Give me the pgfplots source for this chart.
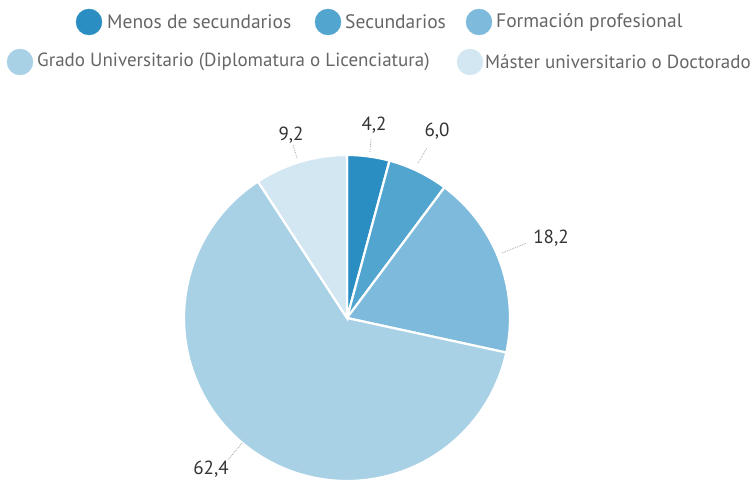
\documentclass[border=0pt]{standalone}
\usepackage{pgfplots}
\pgfplotsset{compat=1.18}
\usepackage{fontspec}
\setmainfont{PT Sans}
\definecolor{cA}{HTML}{2A8EC3}
\definecolor{cB}{HTML}{52A5CF}
\definecolor{cC}{HTML}{7EBADB}
\definecolor{cD}{HTML}{A9D1E5}
\definecolor{cE}{HTML}{D3E7F3}
\definecolor{legtxt}{HTML}{666666}
\definecolor{lbltxt}{HTML}{333333}
% data (percent)
\def\vA{4.2}\def\vB{6.0}\def\vC{18.2}\def\vD{62.4}\def\vE{9.2}
\pgfmathsetmacro\aO{90}
\pgfmathsetmacro\aA{\aO-3.6*\vA}
\pgfmathsetmacro\aB{\aA-3.6*\vB}
\pgfmathsetmacro\aC{\aB-3.6*\vC}
\pgfmathsetmacro\aD{\aC-3.6*\vD}
\pgfmathsetmacro\aE{\aD-3.6*\vE}
\def\cx{347}\def\cy{318}\def\R{163}
\begin{document}
\begin{tikzpicture}
\begin{axis}[
  width=754pt, height=481pt, scale only axis,
  xmin=0, xmax=754, ymin=0, ymax=481, y dir=reverse,
  hide axis, clip=false,
]
\addplot[fill=cA, draw=white, line width=2.2pt, domain=\aA:\aO, samples=20] ({\cx+\R*cos(x)}, {\cy-\R*sin(x)}) -- (axis cs:\cx,\cy) -- cycle;
\addplot[fill=cB, draw=white, line width=2.2pt, domain=\aB:\aA, samples=20] ({\cx+\R*cos(x)}, {\cy-\R*sin(x)}) -- (axis cs:\cx,\cy) -- cycle;
\addplot[fill=cC, draw=white, line width=2.2pt, domain=\aC:\aB, samples=40] ({\cx+\R*cos(x)}, {\cy-\R*sin(x)}) -- (axis cs:\cx,\cy) -- cycle;
\addplot[fill=cD, draw=white, line width=2.2pt, domain=\aD:\aC, samples=120] ({\cx+\R*cos(x)}, {\cy-\R*sin(x)}) -- (axis cs:\cx,\cy) -- cycle;
\addplot[fill=cE, draw=white, line width=2.2pt, domain=\aE:\aD, samples=30] ({\cx+\R*cos(x)}, {\cy-\R*sin(x)}) -- (axis cs:\cx,\cy) -- cycle;
% leader lines
\draw[gray!70, densely dotted, line width=0.8pt] (axis cs:370,152) -- (axis cs:371,138);
\draw[gray!70, densely dotted, line width=0.8pt] (axis cs:418,163) -- (axis cs:427,148);
\draw[gray!70, densely dotted, line width=0.8pt] (axis cs:297,158) -- (axis cs:293,145);
\draw[gray!70, densely dotted, line width=0.8pt] (axis cs:502,253) -- (axis cs:527,243);
\draw[gray!70, densely dotted, line width=0.8pt] (axis cs:242,443) -- (axis cs:228,460);
% data labels
\node[font=\fontsize{19}{20}\selectfont, text=lbltxt] at (axis cs:374,125) {4,2};
\node[font=\fontsize{19}{20}\selectfont, text=lbltxt] at (axis cs:437,131) {6,0};
\node[font=\fontsize{19}{20}\selectfont, text=lbltxt] at (axis cs:291,135) {9,2};
\node[font=\fontsize{19}{20}\selectfont, text=lbltxt] at (axis cs:551,238) {18,2};
\node[font=\fontsize{19}{20}\selectfont, text=lbltxt] at (axis cs:211,469) {62,4};
% legend
\addplot[only marks, mark=*, mark size=13pt, color=cA, mark options={draw=none}] coordinates {(89,22)};
\addplot[only marks, mark=*, mark size=13pt, color=cB, mark options={draw=none}] coordinates {(328,22)};
\addplot[only marks, mark=*, mark size=13pt, color=cC, mark options={draw=none}] coordinates {(479,22)};
\addplot[only marks, mark=*, mark size=13pt, color=cD, mark options={draw=none}] coordinates {(20,62)};
\addplot[only marks, mark=*, mark size=13pt, color=cE, mark options={draw=none}] coordinates {(470,62)};
\node[anchor=west, inner sep=0pt, font=\fontsize{19.5}{20}\selectfont, text=legtxt] at (axis cs:107,22) {Menos de secundarios};
\node[anchor=west, inner sep=0pt, font=\fontsize{19.5}{20}\selectfont, text=legtxt] at (axis cs:345,22) {Secundarios};
\node[anchor=west, inner sep=0pt, font=\fontsize{19.5}{20}\selectfont, text=legtxt] at (axis cs:496,22) {Formación profesional};
\node[anchor=west, inner sep=0pt, font=\fontsize{19}{20}\selectfont, text=legtxt] at (axis cs:37,62) {Grado Universitario (Diplomatura o Licenciatura)};
\node[anchor=west, inner sep=0pt, font=\fontsize{19}{20}\selectfont, text=legtxt] at (axis cs:485,62) {Máster universitario o Doctorado};
\end{axis}
\pgfresetboundingbox
\path[use as bounding box] (0,0) rectangle (754pt,481pt);
\end{tikzpicture}
\end{document}
